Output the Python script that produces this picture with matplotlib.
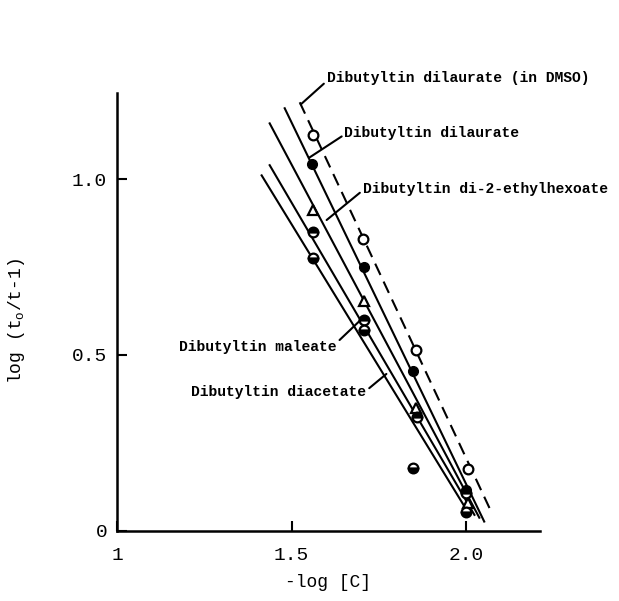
import matplotlib
matplotlib.use("Agg")
import matplotlib.pyplot as plt

plt.rcParams['font.family'] = ['Liberation Mono', 'DejaVu Sans']

# measured points, x = -log[C], y = log(t0/t - 1)
dmso_x = [1.560, 1.705, 1.857, 2.005]
dmso_y = [1.125, 0.830, 0.514, 0.176]
dilaurate_x = [1.557, 1.706, 1.846, 2.000]
dilaurate_y = [1.043, 0.750, 0.455, 0.116]
ethylhex_x = [1.560, 1.706, 1.857, 2.006]
ethylhex_y = [0.912, 0.653, 0.349, 0.080]
maleate_x = [1.560, 1.706, 1.860, 2.000]
maleate_y = [0.849, 0.599, 0.324, 0.108]
diacetate_x = [1.560, 1.706, 1.846, 2.000]
diacetate_y = [0.776, 0.571, 0.179, 0.054]

# drawn straight lines (end points)
dmso_line_x = [1.523, 2.071]
dmso_line_y = [1.219, 0.054]
dilaurate_line_x = [1.480, 2.051]
dilaurate_line_y = [1.202, 0.026]
ethylhex_line_x = [1.437, 2.037]
ethylhex_line_y = [1.159, 0.037]
maleate_line_x = [1.437, 2.023]
maleate_line_y = [1.040, 0.045]
diacetate_line_x = [1.414, 2.000]
diacetate_line_y = [1.011, 0.060]

x_ticks = [1, 1.5, 2.0]
x_ticklabels = ['1', '1.5', '2.0']
y_ticks = [0, 0.5, 1.0]
y_ticklabels = ['0', '0.5', '1.0']

fig = plt.figure(figsize=(6.19, 6.01), dpi=100)
ax = fig.add_axes([0.189, 0.117, 0.683, 0.728])

lw = 1.5
ax.plot(dmso_line_x, dmso_line_y, color='black', lw=lw, ls=(0, (6, 3.5)))
ax.plot(dilaurate_line_x, dilaurate_line_y, color='black', lw=lw)
ax.plot(ethylhex_line_x, ethylhex_line_y, color='black', lw=lw)
ax.plot(maleate_line_x, maleate_line_y, color='black', lw=lw)
ax.plot(diacetate_line_x, diacetate_line_y, color='black', lw=lw)

ms = 7
ax.plot(dmso_x, dmso_y, 'o', ms=ms, mfc='white', mec='black', mew=1.6, zorder=3)
ax.plot(dilaurate_x, dilaurate_y, 'o', ms=ms, mfc='black', mec='black', zorder=3)
ax.plot(ethylhex_x, ethylhex_y, '^', ms=6.5, mfc='white', mec='black', mew=1.6, zorder=3)
ax.plot(maleate_x, maleate_y, 'o', ms=ms, fillstyle='top', mfc='black', mfcalt='white',
        mec='black', mew=1.6, zorder=3)
ax.plot(diacetate_x, diacetate_y, 'o', ms=ms, fillstyle='bottom', mfc='black', mfcalt='white',
        mec='black', mew=1.6, zorder=3)

arrow = dict(arrowstyle='-', color='black', lw=1.5, shrinkA=0, shrinkB=0)
txt = dict(fontsize=10.5, fontweight='bold', va='center')
ax.annotate('Dibutyltin dilaurate (in DMSO)', xy=(1.526, 1.213), xytext=(1.600, 1.287),
            ha='left', annotation_clip=False,
            arrowprops=dict(arrow, relpos=(0, 0.3)), **txt)
ax.annotate('Dibutyltin dilaurate', xy=(1.551, 1.062), xytext=(1.651, 1.131),
            ha='left', arrowprops=dict(arrow, relpos=(0, 0.4)), **txt)
ax.annotate('Dibutyltin di-2-ethylhexoate', xy=(1.600, 0.884), xytext=(1.703, 0.972),
            ha='left', arrowprops=dict(arrow, relpos=(0, 0.4)), **txt)
ax.annotate('Dibutyltin maleate', xy=(1.703, 0.605), xytext=(1.629, 0.523),
            ha='right', arrowprops=dict(arrow, relpos=(1, 0.8)), **txt)
ax.annotate('Dibutyltin diacetate', xy=(1.771, 0.446), xytext=(1.714, 0.395),
            ha='right', arrowprops=dict(arrow, relpos=(1, 0.6)), **txt)

ax.set_xlim(1, 2.21)
ax.set_ylim(0, 1.245)
ax.spines['top'].set_visible(False)
ax.spines['right'].set_visible(False)
ax.spines['left'].set_linewidth(1.8)
ax.spines['bottom'].set_linewidth(1.8)
ax.set_xticks(x_ticks)
ax.set_xticklabels(x_ticklabels)
ax.set_yticks(y_ticks)
ax.set_yticklabels(y_ticklabels)
ax.tick_params(axis='both', direction='in', length=7, width=1.5, labelsize=14)
ax.tick_params(axis='x', pad=12)
ax.tick_params(axis='y', pad=7)
ax.set_xlabel('-log [C]', fontsize=13, labelpad=7)
ax.set_ylabel(r'log (t$_\mathregular{o}$/t-1)', fontsize=13)
ax.yaxis.set_label_coords(-0.213, 0.48)

fig.savefig('out.png', dpi=100)
